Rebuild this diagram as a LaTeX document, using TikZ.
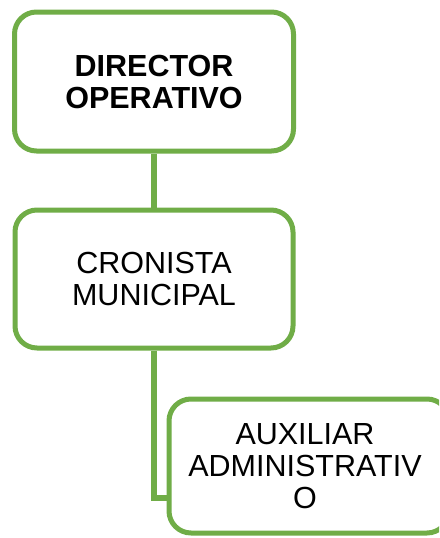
\documentclass[tikz,border=0pt]{standalone}
\usepackage{fontspec}
\setmainfont{Liberation Sans}
\definecolor{boxgreen}{HTML}{70AD47}
\begin{document}
\begin{tikzpicture}[x=1pt,y=1pt,
  orgbox/.style={draw=boxgreen, line width=5pt, rounded corners=22pt, fill=white,
    align=center, inner sep=0pt, font=\fontsize{30.5}{32}\selectfont},
  link/.style={draw=boxgreen, line width=5.5pt}]
\useasboundingbox (0,0) rectangle (439,-538);
\begin{scope}
\clip (0,0) rectangle (439,-538);
\node[orgbox, minimum width=279pt, minimum height=139pt] (b1) at (154,-81.5)
  {\textbf{DIRECTOR}\\\textbf{OPERATIVO}};
\node[orgbox, minimum width=278pt, minimum height=138pt] (b2) at (154,-279)
  {CRONISTA\\MUNICIPAL};
\node[orgbox, minimum width=280pt, minimum height=134pt] (b3) at (309,-466)
  {\hspace*{-8pt}AUXILIAR\\\hspace*{-8pt}ADMINISTRATIV\\\hspace*{-8pt}O};
\coordinate (elbow) at (b1.south |- 0,-498);
\draw[link] (b1.south) -- (b2.north);
\draw[link] (b2.south) |- (b3.west |- elbow);
\end{scope}
\end{tikzpicture}
\end{document}
